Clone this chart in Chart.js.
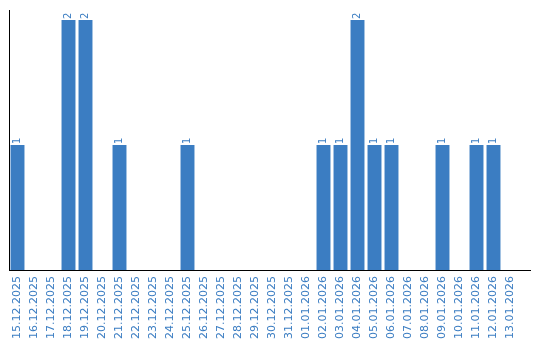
<!DOCTYPE html>
<html>
<head>
<meta charset="utf-8">
<script src="https://cdn.jsdelivr.net/npm/chart.js@4/dist/chart.umd.min.js"></script>
<style>
  html, body { margin: 0; padding: 0; background: #fff; }
</style>
</head>
<body>
<canvas id="chart" width="540" height="340"></canvas>
<script>
const dates = [
    '15.12.2025', '16.12.2025', '17.12.2025', '18.12.2025', '19.12.2025',
    '20.12.2025', '21.12.2025', '22.12.2025', '23.12.2025', '24.12.2025',
    '25.12.2025', '26.12.2025', '27.12.2025', '28.12.2025', '29.12.2025',
    '30.12.2025', '31.12.2025', '01.01.2026', '02.01.2026', '03.01.2026',
    '04.01.2026', '05.01.2026', '06.01.2026', '07.01.2026', '08.01.2026',
    '09.01.2026', '10.01.2026', '11.01.2026', '12.01.2026', '13.01.2026'
];
const counts = [
    1, 0, 0, 2, 2,
    0, 1, 0, 0, 0,
    1, 0, 0, 0, 0,
    0, 0, 0, 1, 1,
    2, 1, 1, 0, 0,
    1, 0, 1, 1, 0
];

const blue = '#3b7dc2';

// value labels above bars, rotated like the axis labels
const barLabels = {
    id: 'barLabels',
    afterDatasetsDraw(chart) {
        const ctx = chart.ctx;
        const meta = chart.getDatasetMeta(0);
        ctx.save();
        ctx.fillStyle = blue;
        ctx.font = '10px "DejaVu Sans"';
        ctx.textAlign = 'left';
        ctx.textBaseline = 'middle';
        meta.data.forEach((bar, i) => {
            if (!counts[i]) return;
            ctx.save();
            ctx.translate(bar.x, bar.y - 1);
            ctx.rotate(-Math.PI / 2);
            ctx.fillText(String(counts[i]), 0, 0);
            ctx.restore();
        });
        ctx.restore();
    }
};

// x axis line runs a little past the last category
const xAxisLine = {
    id: 'xAxisLine',
    afterDraw(chart) {
        const { ctx, chartArea } = chart;
        ctx.save();
        ctx.strokeStyle = '#000';
        ctx.lineWidth = 1;
        ctx.beginPath();
        ctx.moveTo(chartArea.left, Math.round(chartArea.bottom) + 0.5);
        ctx.lineTo(chartArea.right + 12, Math.round(chartArea.bottom) + 0.5);
        ctx.stroke();
        ctx.restore();
    }
};

new Chart(document.getElementById('chart').getContext('2d'), {
    type: 'bar',
    data: {
        labels: dates,
        datasets: [{
            data: counts,
            backgroundColor: blue,
            borderWidth: 0,
            categoryPercentage: 1,
            barPercentage: 0.82
        }]
    },
    options: {
        responsive: false,
        animation: false,
        layout: { padding: { left: 9, right: 21, top: 10, bottom: 0 } },
        plugins: {
            legend: { display: false },
            tooltip: { enabled: false }
        },
        scales: {
            x: {
                grid: { display: false, drawTicks: false },
                border: { display: false },
                ticks: {
                    autoSkip: false,
                    maxRotation: 90,
                    minRotation: 90,
                    padding: 6,
                    color: blue,
                    font: { family: 'DejaVu Sans', size: 11 }
                },
                afterFit(scale) { scale.height = 70; }
            },
            y: {
                min: 0,
                max: Math.max(...counts) * 1.04,
                grid: { display: false, drawTicks: false },
                border: { display: true, color: '#000', width: 1 },
                ticks: { display: false },
                afterFit(scale) { scale.width = 0; }
            }
        }
    },
    plugins: [barLabels, xAxisLine]
});
</script>
</body>
</html>
